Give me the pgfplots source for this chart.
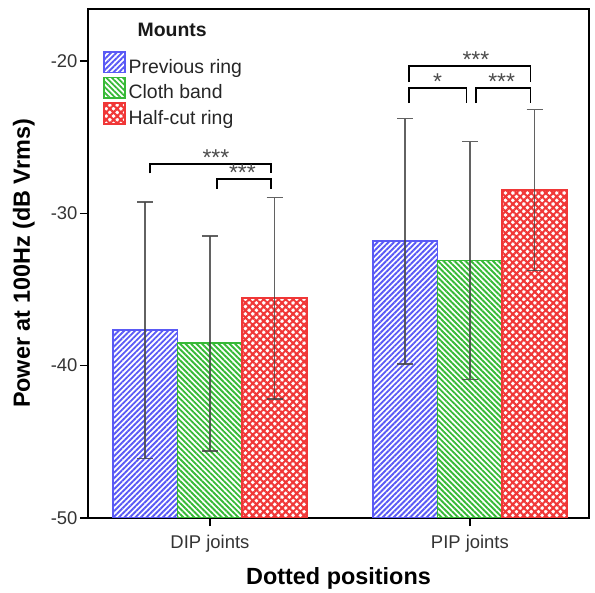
\documentclass[border=0pt]{standalone}
\usepackage{fontspec}
\setmainfont{Liberation Sans}
\usepackage{pgfplots}
\pgfplotsset{compat=1.18}
\usetikzlibrary{patterns.meta}
\definecolor{cblue}{RGB}{90,90,245}
\definecolor{cgreen}{RGB}{55,185,55}
\definecolor{cred}{RGB}{240,55,55}
\definecolor{errc}{RGB}{70,70,70}
\begin{document}
\begin{tikzpicture}
\begin{axis}[
  width=501bp, height=509bp, scale only axis,
  xmin=-0.469, xmax=1.458,
  ymin=-50, ymax=-16.6,
  y coord trafo/.code={\pgfmathparse{#1+50}},
  y coord inv trafo/.code={\pgfmathparse{#1-50}},
  xtick={0,1}, xticklabels={DIP joints, PIP joints},
  ytick={-50,-40,-30,-20}, yticklabels={-50,-40,-30,-20},
  tick align=outside, major tick length=8bp,
  tick style={black, line width=1.4bp},
  axis line style={black, line width=1.6bp},
  ticklabel style={font=\fontsize{18.5}{20}\selectfont, text=black!80},
  xtick pos=bottom, ytick pos=left,
  yticklabel style={xshift=1bp},
  xticklabel style={yshift=-6bp},
  xlabel={Dotted positions},
  ylabel={Power at 100Hz (dB Vrms)},
  label style={font=\fontsize{23.5}{26}\bfseries\selectfont},
  xlabel style={at={(axis description cs:0.5,-0.118)}, anchor=center},
  ylabel style={at={(axis description cs:-0.128,0.5)}, anchor=center},
  legend image code/.code={\draw[#1] (0bp,-5.5bp) rectangle (20.6bp,15.1bp);},
  legend style={at={(rel axis cs:0.030,0.918)}, anchor=north west,
    draw=none, fill=none, inner sep=0pt,
    font=\fontsize{19.5}{22}\selectfont, text=black!85,
    row sep=2bp, column sep=3bp,
    nodes={inner sep=0pt},
    /tikz/every even column/.append style={text height=14bp, text depth=4bp}},
  legend cell align=left,
  error bars/error bar style={draw=errc, line width=1.5bp, opacity=0.85},
  error bars/error mark options={draw=errc, rotate=90, mark size=8bp, line width=1.5bp, opacity=0.85},
]
% Previous ring
\addplot[ybar, bar width=0.249, bar shift=-0.249, draw=cblue, line width=1.8bp,
  pattern={Lines[angle=45,distance=3.9pt,line width=1.9pt]}, pattern color=cblue]
  coordinates {(0,-37.68) (1,-31.84)};
\addlegendentry{Previous ring}
% Cloth band
\addplot[ybar, bar width=0.249, bar shift=0, draw=cgreen, line width=1.8bp,
  pattern={Lines[angle=-45,distance=3.9pt,line width=1.9pt]}, pattern color=cgreen]
  coordinates {(0,-38.54) (1,-33.10)};
\addlegendentry{Cloth band}
% Half-cut ring
\addplot[ybar, bar width=0.249, bar shift=0.249, draw=cred, line width=1.8bp,
  pattern={Hatch[angle=45,distance=5.2pt,line width=2.1pt]}, pattern color=cred]
  coordinates {(0,-35.58) (1,-28.49)};
\addlegendentry{Half-cut ring}
% error bars (at bar centres)
\addplot[forget plot, draw=none, mark=none,
  error bars/.cd, y dir=both, y explicit]
  coordinates {
    (-0.249,-37.68) +- (0,8.40) (0.751,-31.84) +- (0,8.05)
    (0,-38.54) +- (0,7.05) (1,-33.10) +- (0,7.80)
    (0.249,-35.58) +- (0,6.60) (1.249,-28.49) +- (0,5.28)};
% significance brackets
\addplot[forget plot, black, line width=1.8bp, sharp plot, no marks]
  coordinates {(-0.231,-27.39) (-0.231,-26.76) (0.235,-26.76) (0.235,-27.39)};
\addplot[forget plot, black, line width=1.8bp, sharp plot, no marks]
  coordinates {(0.026,-28.38) (0.026,-27.78) (0.235,-27.78) (0.235,-28.38)};
\addplot[forget plot, black, line width=1.8bp, sharp plot, no marks]
  coordinates {(0.765,-21.40) (0.765,-20.35) (1.233,-20.35) (1.233,-21.40)};
\addplot[forget plot, black, line width=1.8bp, sharp plot, no marks]
  coordinates {(0.765,-22.78) (0.765,-21.80) (0.987,-21.80) (0.987,-22.78)};
\addplot[forget plot, black, line width=1.8bp, sharp plot, no marks]
  coordinates {(1.022,-22.78) (1.022,-21.80) (1.233,-21.80) (1.233,-22.78)};
\begin{scope}[every node/.style={font=\fontsize{23}{23}\selectfont, text=black!70, inner sep=0pt, anchor=base}]
\node at (axis cs:0.023,-26.85) {***};
\node at (axis cs:0.125,-27.87) {***};
\node at (axis cs:1.023,-20.44) {***};
\node at (axis cs:0.876,-21.89) {*};
\node at (axis cs:1.122,-21.89) {***};
\end{scope}
\node[font=\fontsize{19.5}{22}\bfseries\selectfont, text=black!90] at (rel axis cs:0.168,0.959) {Mounts};
\end{axis}
\path ([shift={(-88bp,-74bp)}]current axis.south west) rectangle ([shift={(6bp,9bp)}]current axis.north east);
\end{tikzpicture}
\end{document}
